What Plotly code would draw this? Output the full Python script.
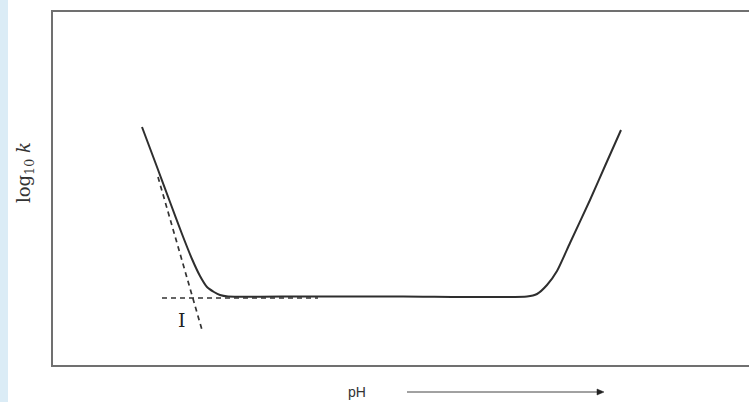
import plotly.graph_objects as go

# Rate profile log10 k vs pH (arbitrary units)
curve_ph = [1.78, 2.08, 2.34, 2.58, 2.78, 2.94, 3.08, 3.22, 3.34, 3.50,
            5.00, 7.00, 9.48, 9.68, 9.88, 10.08, 10.34, 10.74, 11.04, 11.36]
curve_logk = [4.76, 3.96, 3.26, 2.62, 2.12, 1.78, 1.56, 1.46, 1.40, 1.37,
              1.37, 1.37, 1.37, 1.42, 1.60, 1.88, 2.44, 3.30, 3.98, 4.70]

# Tangent (asymptote) lines
steep_ph = [2.10, 2.98]
steep_logk = [3.76, 0.70]
flat_ph = [2.18, 5.30]
flat_logk = [1.34, 1.34]

label_ph, label_logk, label_text = 2.58, 0.90, "I"

W, H = 749, 402
L, R, T, B = 53, 0, 12, 37
PW, PH = W - L - R, H - T - B


def px(x):
    return (x - L) / PW


def py(y):
    return (H - B - y) / PH


fig = go.Figure()
fig.add_trace(go.Scatter(x=curve_ph, y=curve_logk, mode="lines",
                         line=dict(color="#2e2e2e", width=2, shape="spline", smoothing=0.6),
                         hoverinfo="skip"))
fig.add_trace(go.Scatter(x=steep_ph, y=steep_logk, mode="lines",
                         line=dict(color="#333333", width=1.7, dash="5px,4px"),
                         hoverinfo="skip"))
fig.add_trace(go.Scatter(x=flat_ph, y=flat_logk, mode="lines",
                         line=dict(color="#333333", width=1.7, dash="5px,4px"),
                         hoverinfo="skip"))

fig.add_annotation(x=label_ph, y=label_logk, text=label_text, showarrow=False,
                   xanchor="center", yanchor="middle",
                   font=dict(family="DejaVu Serif", size=19, color="#222222"))

# y title
fig.add_annotation(xref="paper", yref="paper", x=px(25), y=py(173),
                   xanchor="center", yanchor="middle",
                   text="log<sub>10</sub> <i>k</i>", textangle=-90, showarrow=False,
                   font=dict(family="DejaVu Serif", size=18, color="#333333"))
# x title
fig.add_annotation(xref="paper", yref="paper", x=px(357), y=py(392),
                   xanchor="center", yanchor="middle",
                   text="pH", showarrow=False,
                   font=dict(family="Liberation Sans", size=14, color="#333333"))
# arrow line + head
fig.add_shape(type="line", xref="paper", yref="paper",
              x0=px(407), x1=px(598), y0=py(392), y1=py(392),
              line=dict(color="#444444", width=1))
fig.add_shape(type="path", xref="paper", yref="paper",
              path=f"M {px(597)} {py(389)} L {px(604)} {py(392)} L {px(597)} {py(395)} Z",
              fillcolor="#222222", line=dict(color="#222222", width=0.5))

# left light-blue strip
fig.add_shape(type="rect", xref="paper", yref="paper",
              x0=px(0), x1=px(8), y0=py(H), y1=py(0),
              fillcolor="#dbecf6", line=dict(width=0), layer="below")

fig.update_layout(
    width=W, height=H,
    margin=dict(l=L, r=R, t=T, b=B),
    paper_bgcolor="white", plot_bgcolor="white",
    showlegend=False,
    xaxis=dict(range=[0, 13.92], showgrid=False, zeroline=False, showticklabels=False,
               ticks="", showline=True, mirror=True, linecolor="#707070", linewidth=2),
    yaxis=dict(range=[0, 7.06], showgrid=False, zeroline=False, showticklabels=False,
               ticks="", showline=True, mirror=False, linecolor="#707070", linewidth=2),
)

fig.write_html("out.html", config={"displayModeBar": False},
               post_script="document.body.style.margin='0';document.body.style.overflow='hidden';")
